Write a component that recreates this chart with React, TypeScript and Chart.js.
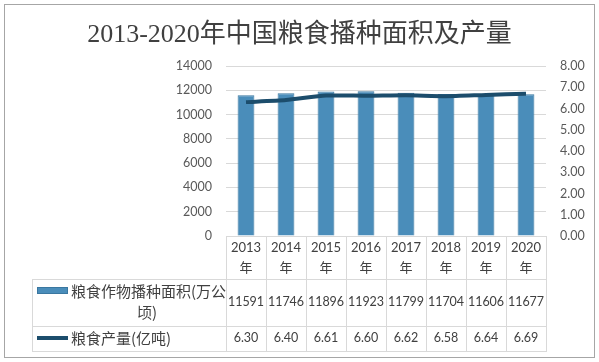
import React, { useEffect, useRef } from "react";
import { Chart, registerables } from "chart.js";

Chart.register(...registerables);

const title = "2013-2020年中国粮食播种面积及产量";
const years = ["2013", "2014", "2015", "2016", "2017", "2018", "2019", "2020"];
const yearSuffix = "年";
const areaName = "粮食作物播种面积(万公顷)";
const areaNameLines = ["粮食作物播种面积(万公", "顷)"];
const areaValues = [11591, 11746, 11896, 11923, 11799, 11704, 11606, 11677];
const outputName = "粮食产量(亿吨)";
const outputValues = [6.3, 6.4, 6.61, 6.6, 6.62, 6.58, 6.64, 6.69];
const leftMax = 14000;
const leftStep = 2000;
const rightMax = 8;
const rightStep = 1;

const BAR_COLOR = "#4a8dba";
const BAR_EDGE = "#3a77a0";
const LINE_COLOR = "#1c4d6c";
const TEXT = "#404040";
const GRID = "#d9d9d9";
const NUM_FONT = '"Lato", "Noto Sans CJK SC", sans-serif';
const CJK_FONT = '"Noto Sans CJK SC", sans-serif';

const tablePlugin = {
  id: "tableAndTitle",
  afterDraw(chart: any) {
    const ctx = chart.ctx as CanvasRenderingContext2D;
    const x = chart.scales.x;
    const area = chart.chartArea;
    const n = years.length;
    const colW = (area.right - area.left) / n;
    const tableLeft = 32;
    const rowTop1 = 279;
    const rowTop2 = 326;
    const rowBottom = 351;
    ctx.save();

    // Title
    ctx.fillStyle = TEXT;
    ctx.font = '26px "Liberation Serif", "Noto Sans CJK SC", serif';
    ctx.textAlign = "center";
    ctx.textBaseline = "alphabetic";
    ctx.fillText(title, 299.5, 42);

    // Table grid lines
    ctx.strokeStyle = GRID;
    ctx.lineWidth = 1;
    ctx.beginPath();
    ctx.moveTo(area.left, area.bottom + 0.5);
    ctx.lineTo(area.right, area.bottom + 0.5);
    for (const yy of [rowTop1, rowTop2, rowBottom]) {
      ctx.moveTo(tableLeft, yy + 0.5);
      ctx.lineTo(area.right, yy + 0.5);
    }
    ctx.moveTo(tableLeft + 0.5, rowTop1);
    ctx.lineTo(tableLeft + 0.5, rowBottom + 1);
    for (let i = 0; i <= n; i++) {
      const cx = Math.round(area.left + i * colW) + 0.5;
      ctx.moveTo(cx, area.bottom);
      ctx.lineTo(cx, rowBottom + 1);
    }
    ctx.stroke();

    // Category labels
    ctx.fillStyle = TEXT;
    ctx.textAlign = "center";
    ctx.textBaseline = "middle";
    for (let i = 0; i < n; i++) {
      const cx = x.getPixelForValue(i);
      ctx.font = "13px " + NUM_FONT;
      ctx.fillText(years[i], cx, 248);
      ctx.font = "13px " + CJK_FONT;
      ctx.fillText(yearSuffix, cx, 267);
    }

    // Values
    ctx.font = "12.5px " + NUM_FONT;
    for (let i = 0; i < n; i++) {
      const cx = x.getPixelForValue(i);
      ctx.fillText(String(areaValues[i]), cx, 302);
      ctx.fillText(outputValues[i].toFixed(2), cx, 338);
    }

    // Legend keys
    ctx.fillStyle = BAR_COLOR;
    ctx.fillRect(37, 287, 31, 7);
    ctx.strokeStyle = BAR_EDGE;
    ctx.strokeRect(37.5, 287.5, 30, 6);
    ctx.strokeStyle = LINE_COLOR;
    ctx.lineWidth = 4;
    ctx.beginPath();
    ctx.moveTo(37, 338);
    ctx.lineTo(68, 338);
    ctx.stroke();

    // Series names
    ctx.fillStyle = TEXT;
    ctx.font = "15px " + CJK_FONT;
    ctx.textAlign = "left";
    ctx.textBaseline = "middle";
    ctx.fillText(areaNameLines[0], 71, 291);
    ctx.textAlign = "center";
    ctx.fillText(areaNameLines[1], 147, 312);
    ctx.textAlign = "left";
    ctx.fillText(outputName, 71, 338);

    // Outer border
    ctx.strokeStyle = "#a6a6a6";
    ctx.lineWidth = 1;
    ctx.strokeRect(4.5, 4.5, 590, 353);
    ctx.restore();
  },
};

export default function App() {
  const ref = useRef<HTMLCanvasElement | null>(null);
  useEffect(() => {
    document.body.style.margin = "0";
    const canvas = ref.current;
    if (!canvas) return;
    const chart = new Chart(canvas, {
      data: {
        labels: years,
        datasets: [
          {
            type: "line",
            label: outputName,
            data: outputValues,
            yAxisID: "y1",
            borderColor: LINE_COLOR,
            backgroundColor: LINE_COLOR,
            borderWidth: 4,
            pointRadius: 0,
            tension: 0.2,
            order: 0,
          },
          {
            type: "bar",
            label: areaName,
            data: areaValues,
            yAxisID: "y",
            backgroundColor: BAR_COLOR,
            borderColor: BAR_EDGE,
            borderWidth: 1,
            barPercentage: 0.42,
            categoryPercentage: 1,
            order: 1,
          },
        ],
      } as any,
      options: {
        responsive: false,
        animation: false,
        layout: { padding: { top: 66, bottom: 126, left: 0, right: 0 } },
        plugins: {
          legend: { display: false },
          tooltip: { enabled: false },
          title: { display: false },
        },
        scales: {
          x: {
            display: false,
            offset: true,
          },
          y: {
            position: "left",
            min: 0,
            max: leftMax,
            border: { display: false },
            grid: { color: GRID, drawTicks: false },
            ticks: {
              stepSize: leftStep,
              padding: 14,
              color: "#595959",
              font: { family: NUM_FONT, size: 12.5 },
              callback: (v: any) => String(v),
            },
            afterFit(scale: any) {
              scale.width = 226;
            },
          },
          y1: {
            position: "right",
            min: 0,
            max: rightMax,
            border: { display: false },
            grid: { display: false, drawTicks: false },
            ticks: {
              stepSize: rightStep,
              padding: 14,
              color: "#595959",
              font: { family: NUM_FONT, size: 12.5 },
              callback: (v: any) => Number(v).toFixed(2),
            },
            afterFit(scale: any) {
              scale.width = 53;
            },
          },
        },
      } as any,
      plugins: [tablePlugin],
    });
    return () => chart.destroy();
  }, []);
  return (
    <div style={{ width: 599, height: 362 }}>
      <canvas ref={ref} width={599} height={362} style={{ display: "block" }} />
    </div>
  );
}
